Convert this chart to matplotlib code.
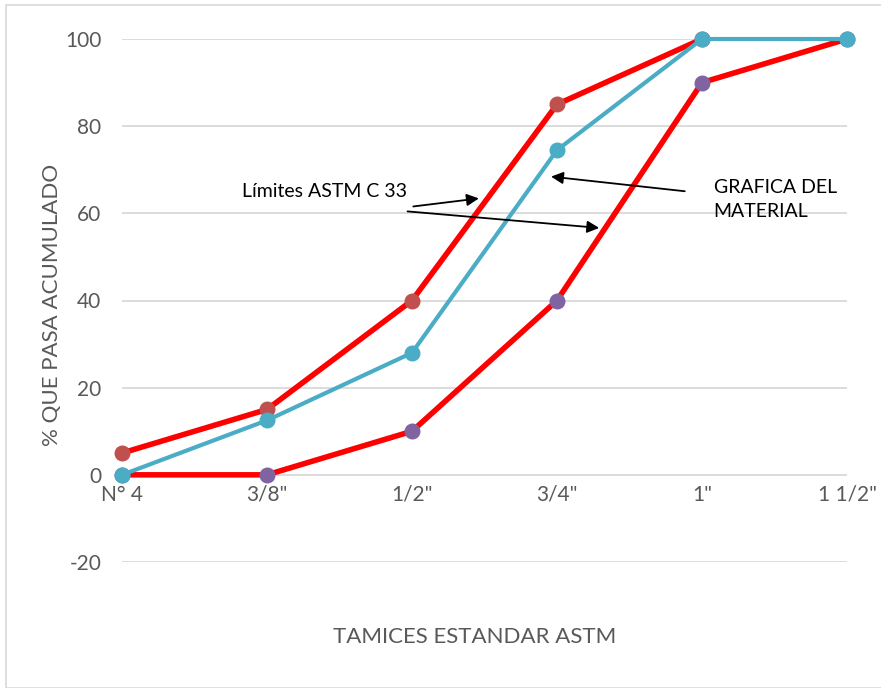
import matplotlib
matplotlib.use("Agg")
import matplotlib.pyplot as plt
from matplotlib.patches import Rectangle

plt.rcParams['font.family'] = ['Lato', 'DejaVu Sans']
plt.rcParams['axes.unicode_minus'] = False

# Sieve sizes (ASTM) and cumulative % passing
tamices = ['N° 4', '3/8"', '1/2"', '3/4"', '1"', '1 1/2"']
limite_superior = [5, 15, 40, 85, 100, None]
limite_inferior = [0, 0, 10, 40, 90, 100]
material = [0, 12.5, 28, 74.5, 100, 100]
y_ticks = [-20, 0, 20, 40, 60, 80, 100]

fig = plt.figure(figsize=(8.81, 6.88), dpi=100)
fig.patches.append(Rectangle((6 / 881, 0), 1, 1 - 5 / 688, transform=fig.transFigure,
                             fill=False, edgecolor='#D9D9D9', linewidth=1.2))
ax = fig.add_axes([122 / 881, 1 - 562 / 688, (847 - 122) / 881, (562 - 39) / 688])

x = list(range(len(tamices)))
grid_c = '#D9D9D9'
text_c = '#595959'

for t in y_ticks:
    ax.axhline(t, color=grid_c, linewidth=1.3, zorder=0)

sup = [float('nan') if v is None else v for v in limite_superior]
ax.plot(x, sup, color='#FF0000', linewidth=4.0, zorder=2, clip_on=False,
        marker='o', markersize=10.5, markerfacecolor='#C0504D', markeredgecolor='#C0504D')
ax.plot(x, limite_inferior, color='#FF0000', linewidth=4.0, zorder=2, clip_on=False,
        marker='o', markersize=10.5, markerfacecolor='#8064A2', markeredgecolor='#8064A2')
ax.plot(x, material, color='#4BACC6', linewidth=3.0, zorder=3, clip_on=False,
        marker='o', markersize=10.5, markerfacecolor='#4BACC6', markeredgecolor='#4BACC6')

ax.set_xlim(0, len(tamices) - 1)
ax.set_ylim(-20, 100)
ax.set_yticks(y_ticks)
ax.set_xticks([])
ax.tick_params(axis='y', length=0, pad=15, labelsize=15, labelcolor=text_c)
for s in ax.spines.values():
    s.set_visible(False)

# category labels sit just under the zero line
for i, lab in enumerate(tamices):
    ax.annotate(lab, xy=(i, 0), xytext=(0, -20), textcoords='offset pixels',
                ha='center', va='center', fontsize=15, color=text_c)

fig.text(475 / 881, 1 - 637 / 688, 'TAMICES ESTANDAR ASTM', ha='center', va='center',
         fontsize=16, color=text_c)
fig.text(52 / 881, 1 - 305 / 688, '% QUE PASA ACUMULADO', ha='center', va='center',
         rotation=90, fontsize=16, color=text_c)

# annotations with arrows
ax.text(1.4, 65.0, 'Límites ASTM C 33', ha='center', va='center', fontsize=14, color='black')
arrow = dict(arrowstyle='-|>', color='black', linewidth=1.3, mutation_scale=18)
ax.annotate('', xy=(2.48, 63.5), xytext=(1.99, 61.5), arrowprops=arrow)
ax.annotate('', xy=(3.31, 56.6), xytext=(1.95, 60.5), arrowprops=arrow)
ax.annotate('', xy=(2.94, 68.5), xytext=(3.9, 65.0), arrowprops=arrow)
ax.text(4.08, 63.2, 'GRAFICA DEL\nMATERIAL', ha='left', va='center', fontsize=14,
        color='black', linespacing=1.5)

fig.savefig('out.png', dpi=100)
